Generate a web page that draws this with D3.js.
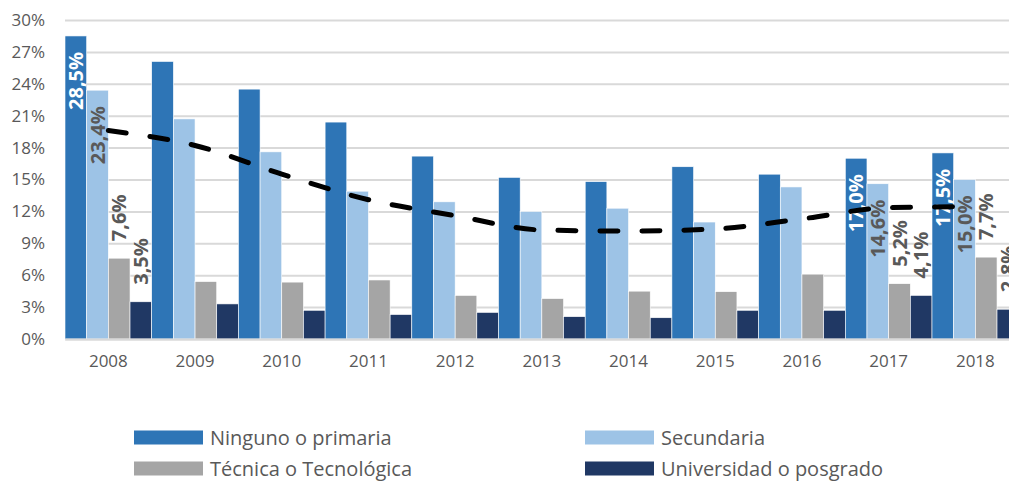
<!DOCTYPE html>
<html>
<head>
<meta charset="utf-8">
<script src="https://cdn.jsdelivr.net/npm/d3@7"></script>
<style>
  body { margin: 0; background: #fff; }
  text { font-family: 'Open Sans', sans-serif; }
</style>
</head>
<body>
<svg id="chart"></svg>
<script>
// chart values
const years = ['2008', '2009', '2010', '2011', '2012', '2013', '2014', '2015', '2016', '2017', '2018']
const seriesNames = ['Ninguno o primaria', 'Secundaria', 'Técnica o Tecnológica', 'Universidad o posgrado']
const primaria = [28.5, 26.1, 23.5, 20.4, 17.2, 15.2, 14.8, 16.2, 15.5, 17.0, 17.5]
const secundaria = [23.4, 20.7, 17.6, 13.9, 12.9, 12.0, 12.3, 11.0, 14.3, 14.6, 15.0]
const tecnica = [7.6, 5.4, 5.35, 5.55, 4.1, 3.8, 4.5, 4.45, 6.1, 5.2, 7.7]
const universidad = [3.5, 3.3, 2.7, 2.3, 2.5, 2.1, 2.0, 2.7, 2.7, 4.1, 2.8]
// dashed trend line
const trend = [19.6, 18.2, 15.5, 13.1, 11.6, 10.25, 10.15, 10.35, 11.3, 12.35, 12.45]
const yTicks = [0, 3, 6, 9, 12, 15, 18, 21, 24, 27, 30]
const labeledYears = ['2008', '2017', '2018']

const colors = ['#2e75b6', '#9dc3e6', '#a5a5a5', '#203864']
const labelColors = ['#ffffff', '#595959', '#595959', '#595959']
const labelInside = [true, true, false, false]

const fullWidth = 1009
const fullHeight = 485
const margin = {top: 20, left: 65, bottom: 146}
const groupWidth = 86.7
const height = fullHeight - margin.top - margin.bottom

const values = [primaria, secundaria, tecnica, universidad]
const data = years.map((yr, i) => ({
  year: yr,
  vals: seriesNames.map((s, j) => ({series: s, idx: j, year: yr, v: values[j][i]}))
}))

const svg = d3.select('#chart')
  .attr('width', fullWidth)
  .attr('height', fullHeight)

const g = svg.append('g')
  .attr('transform', 'translate(0,' + margin.top + ')')

const xScale = d3.scaleBand()
  .domain(years)
  .range([margin.left, margin.left + groupWidth * years.length])
  .padding(0)

const xInner = d3.scaleBand()
  .domain(seriesNames)
  .range([0, xScale.bandwidth()])
  .padding(0)

const yScale = d3.scaleLinear()
  .domain([0, 30])
  .range([height, 0])

// gridlines + y labels
const yAxis = d3.axisLeft(yScale)
  .tickValues(yTicks)
  .tickFormat(d => d + '%')
  .tickSize(-(fullWidth - margin.left + 20))
  .tickPadding(20)

const yAxisEle = g.append('g')
  .attr('transform', 'translate(' + margin.left + ',0)')
  .call(yAxis)
yAxisEle.select('.domain').remove()
yAxisEle.selectAll('line')
  .attr('stroke', '#d9d9d9')
  .attr('stroke-width', 2)
yAxisEle.selectAll('text')
  .attr('fill', '#595959')
  .style('font-size', '17px')

// bars
const groups = g.append('g').selectAll('g')
  .data(data)
  .enter().append('g')
  .attr('transform', d => 'translate(' + xScale(d.year) + ',0)')

groups.selectAll('rect')
  .data(d => d.vals)
  .enter().append('rect')
  .attr('x', d => xInner(d.series))
  .attr('width', xInner.bandwidth())
  .attr('y', d => yScale(d.v))
  .attr('height', d => height - yScale(d.v))
  .attr('fill', d => colors[d.idx])
  .attr('stroke', '#ffffff')
  .attr('stroke-width', 0.6)

// x axis
const xAxis = d3.axisBottom(xScale)
  .tickSize(0)
  .tickPadding(16)
const xAxisEle = g.append('g')
  .attr('transform', 'translate(0,' + height + ')')
  .call(xAxis)
xAxisEle.select('.domain')
  .attr('stroke', '#d9d9d9')
  .attr('stroke-width', 2)
xAxisEle.selectAll('text')
  .attr('fill', '#595959')
  .style('font-size', '17px')

// data labels, rotated
groups.filter(d => labeledYears.includes(d.year))
  .selectAll('text.lbl')
  .data(d => d.vals)
  .enter().append('text')
  .classed('lbl', true)
  .attr('transform', d => {
    const cx = xInner(d.series) + xInner.bandwidth() / 2
    const top = yScale(d.v)
    const y = labelInside[d.idx] ? top + 16 : top - 17
    return 'translate(' + cx + ',' + y + ')rotate(-90)'
  })
  .attr('dy', '0.36em')
  .attr('text-anchor', d => labelInside[d.idx] ? 'end' : 'start')
  .attr('fill', d => labelColors[d.idx])
  .style('font-size', '20px')
  .style('font-weight', 'bold')
  .text(d => d.v.toFixed(1).replace('.', ',') + '%')

// trend line
const line = d3.line()
  .x((d, i) => xScale(years[i]) + xScale.bandwidth() / 2)
  .y(d => yScale(d))
  .curve(d3.curveMonotoneX)

g.append('path')
  .datum(trend)
  .attr('d', line)
  .attr('fill', 'none')
  .attr('stroke', '#000000')
  .attr('stroke-width', 5)
  .attr('stroke-linecap', 'round')
  .attr('stroke-dasharray', '18,24')

// legend
const legendPos = [[134, 437.5], [585, 437.5], [134, 468.5], [585, 468.5]]
const legend = svg.append('g').selectAll('g')
  .data(seriesNames)
  .enter().append('g')
  .attr('transform', (d, i) => 'translate(' + legendPos[i][0] + ',' + legendPos[i][1] + ')')

legend.append('rect')
  .attr('x', 0)
  .attr('y', -7)
  .attr('width', 69)
  .attr('height', 14)
  .attr('fill', (d, i) => colors[i])

legend.append('text')
  .attr('x', 76)
  .attr('dy', '0.35em')
  .attr('fill', '#595959')
  .style('font-size', '20px')
  .text(d => d)
</script>
</body>
</html>
